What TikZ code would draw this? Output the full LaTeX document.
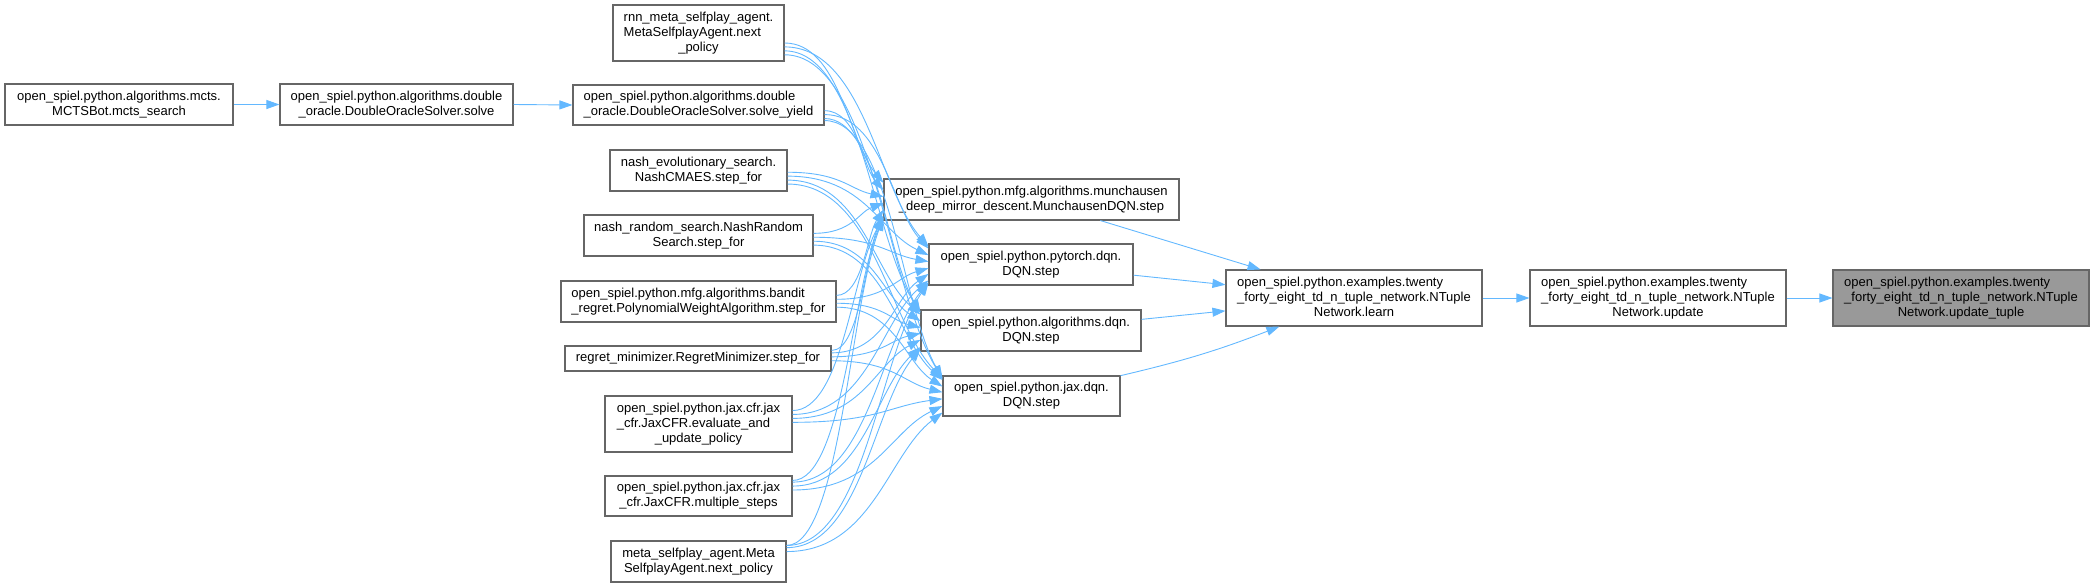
\documentclass[tikz,border=0pt]{standalone}
\usepackage{fontspec}
\setmainfont{Liberation Sans}
\usetikzlibrary{arrows.meta,calc}
\definecolor{edgec}{HTML}{63B8FF}
\definecolor{borderc}{HTML}{666666}
\definecolor{hlc}{HTML}{999999}
\newcommand\lns[2]{\begin{tabular}{@{}l@{}}#1\\\multicolumn{1}{@{}c@{}}{#2}\end{tabular}}
\newcommand\cedge[2]{%
\draw[edge] let \p1=(#1.east), \p2=(#2.west), \p3=(#1.north), \p4=(#2.north),
 \n1={max(min((\y2-\y1)*0.06,\y3-\y1-5pt),\y1-\y3+5pt)},
 \n2={max(min((\y1-\y2)*0.1,\y4-\y2-3pt),\y2-\y4+3pt)},
 \n3={\x2-\x1},
 \n4={\y1-\y2}
 in (\x1,\y1+\n1*1pt) .. controls (\x1+0.55*\n3*1pt,\y1+\n1*1pt) and (\x2-0.35*\n3*1pt,\y2+\n2*1pt+0.25*\n4*1pt) .. (\x2,\y2+\n2*1pt);}
\tikzset{
  box/.style={draw=borderc, line width=1.1pt, fill=white, inner sep=0pt,
    font=\fontsize{13}{15}\selectfont, align=center},
  hl/.style={box, fill=hlc},
  edge/.style={draw=edgec, line width=0.9pt, -{Triangle[length=13pt,width=9pt]}}
}
\begin{document}
\begin{tikzpicture}[x=1pt,y=-1pt]
\useasboundingbox (0,0) rectangle (2094,587);
% column 0/1
\node[box, minimum width=228pt, minimum height=41pt] (mcts) at (119,104.5) {\lns{open\_spiel.python.algorithms.mcts.}{MCTSBot.mcts\_search}};
\node[box, minimum width=233pt, minimum height=41pt] (solve) at (396.5,104.5) {\lns{open\_spiel.python.algorithms.double}{\_oracle.DoubleOracleSolver.solve}};
% column 2
\node[box, minimum width=171pt, minimum height=56pt] (rnn) at (698.5,33) {\lns{rnn\_meta\_selfplay\_agent.\\MetaSelfplayAgent.next}{\_policy}};
\node[box, minimum width=251pt, minimum height=40pt] (syield) at (698.5,105) {\lns{open\_spiel.python.algorithms.double}{\_oracle.DoubleOracleSolver.solve\_yield}};
\node[box, minimum width=177pt, minimum height=41pt] (nevo) at (698.5,170.5) {\lns{nash\_evolutionary\_search.}{NashCMAES.step\_for}};
\node[box, minimum width=229pt, minimum height=41pt] (nrand) at (698.5,235.5) {\lns{nash\_random\_search.NashRandom}{Search.step\_for}};
\node[box, minimum width=275pt, minimum height=41pt] (bandit) at (698.5,301.5) {\lns{open\_spiel.python.mfg.algorithms.bandit}{\_regret.PolynomialWeightAlgorithm.step\_for}};
\node[box, minimum width=266pt, minimum height=25pt] (regret) at (698,358.5) {regret\_minimizer.RegretMinimizer.step\_for};
\node[box, minimum width=187pt, minimum height=56pt] (evalp) at (698.5,424) {\lns{open\_spiel.python.jax.cfr.jax\\\_cfr.JaxCFR.evaluate\_and}{\_update\_policy}};
\node[box, minimum width=187pt, minimum height=40pt] (msteps) at (698.5,496) {\lns{open\_spiel.python.jax.cfr.jax}{\_cfr.JaxCFR.multiple\_steps}};
\node[box, minimum width=175pt, minimum height=41pt] (meta) at (698.5,561.5) {\lns{meta\_selfplay\_agent.Meta}{SelfplayAgent.next\_policy}};
% column 3
\node[box, minimum width=295pt, minimum height=41pt] (munch) at (1031.5,199.5) {\lns{open\_spiel.python.mfg.algorithms.munchausen}{\_deep\_mirror\_descent.MunchausenDQN.step}};
\node[box, minimum width=204pt, minimum height=41pt] (pyt) at (1031,264.5) {\lns{open\_spiel.python.pytorch.dqn.}{DQN.step}};
\node[box, minimum width=220pt, minimum height=41pt] (alg) at (1031,330.5) {\lns{open\_spiel.python.algorithms.dqn.}{DQN.step}};
\node[box, minimum width=177pt, minimum height=40pt] (jax) at (1031.5,396) {\lns{open\_spiel.python.jax.dqn.}{DQN.step}};
% column 4-6
\node[box, minimum width=256pt, minimum height=56pt] (learn) at (1354,298) {\lns{open\_spiel.python.examples.twenty\\\_forty\_eight\_td\_n\_tuple\_network.NTuple}{Network.learn}};
\node[box, minimum width=256pt, minimum height=56pt] (update) at (1658,298) {\lns{open\_spiel.python.examples.twenty\\\_forty\_eight\_td\_n\_tuple\_network.NTuple}{Network.update}};
\node[hl, minimum width=256pt, minimum height=56pt] (utuple) at (1961,298) {\lns{open\_spiel.python.examples.twenty\\\_forty\_eight\_td\_n\_tuple\_network.NTuple}{Network.update\_tuple}};
% edges
\draw[edge] (mcts) -- (solve);
\draw[edge] (solve.east) -- (syield.west);
\draw[edge] (learn) -- (update);
\draw[edge] (update) -- (utuple);
\draw[edge] (munch) -- (learn);
\draw[edge] (pyt) -- (learn);
\draw[edge] (alg) -- (learn);
\draw[edge] (jax) to[bend right=4] (learn);
\foreach \s in {rnn,syield,nevo,nrand,bandit,regret,evalp,msteps,meta}{
  \foreach \t in {munch,pyt,alg,jax}{\cedge{\s}{\t}}}
\end{tikzpicture}
\end{document}
